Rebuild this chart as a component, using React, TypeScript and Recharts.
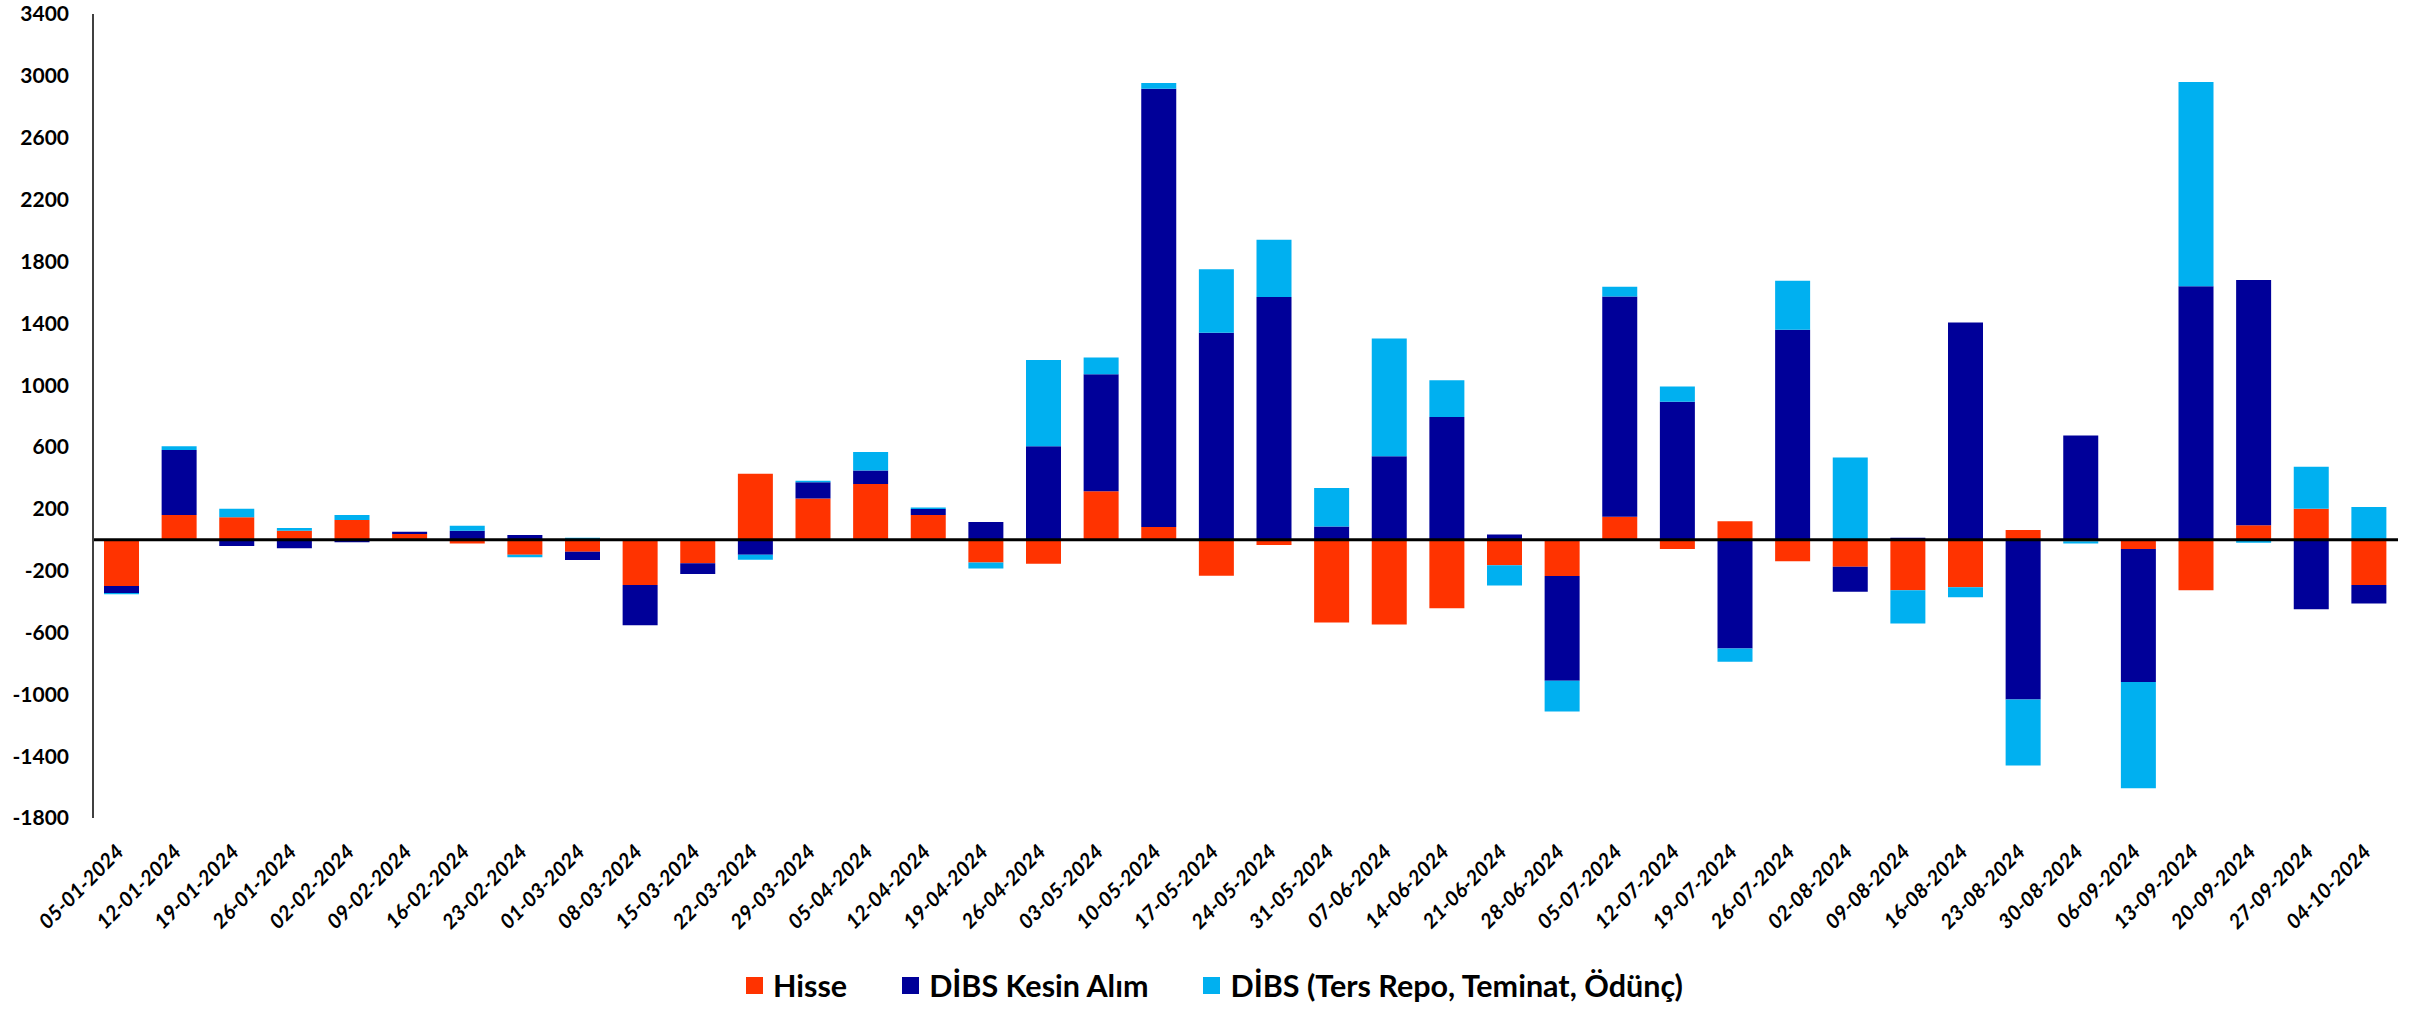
import React from 'react';
import { BarChart, Bar, XAxis, YAxis, ReferenceLine, Legend } from 'recharts';

const dates = [
  '05-01-2024', '12-01-2024', '19-01-2024', '26-01-2024', '02-02-2024', '09-02-2024', '16-02-2024', '23-02-2024',
  '01-03-2024', '08-03-2024', '15-03-2024', '22-03-2024', '29-03-2024', '05-04-2024', '12-04-2024', '19-04-2024',
  '26-04-2024', '03-05-2024', '10-05-2024', '17-05-2024', '24-05-2024', '31-05-2024', '07-06-2024', '14-06-2024',
  '21-06-2024', '28-06-2024', '05-07-2024', '12-07-2024', '19-07-2024', '26-07-2024', '02-08-2024', '09-08-2024',
  '16-08-2024', '23-08-2024', '30-08-2024', '06-09-2024', '13-09-2024', '20-09-2024', '27-09-2024', '04-10-2024',
];

const hisse = [
  -300, 160, 145, 58, 127, 37, -24, -97, -78, -293, -153, 427, 267, 360, 160, -147, -155, 313, 82, -233,
  -34, -535, -549, -443, -165, -235, 149, -60, 119, -139, -175, -327, -307, 63, -10, -60, -327, 93, 200, -293,
];

const dibsKesin = [
  -45, 420, -40, -55, -17, 15, 58, 30, -54, -260, -69, -97, 104, 88, 39, 114, 604, 757, 2835, 1339,
  1570, 86, 539, 793, 33, -678, 1424, 892, -704, 1358, -162, 13, 1404, -1034, 674, -860, 1639, 1587, -450, -119,
];

const dibsRepo = [
  -8, 25, 55, 17, 32, -8, 32, -17, 13, 0, 0, -32, 11, 119, 9, -39, 558, 108, 37, 410,
  370, 248, 763, 238, -132, -198, 63, 99, -86, 317, 532, -215, -66, -426, -15, -687, 1322, -20, 271, 211,
];

const yTicks = [-1800, -1400, -1000, -600, -200, 200, 600, 1000, 1400, 1800, 2200, 2600, 3000, 3400];

const seriesNames = ['Hisse', 'DİBS Kesin Alım', 'DİBS (Ters Repo, Teminat, Ödünç)'];
const seriesColors = ['#FF3300', '#000099', '#00B0F0'];

const data = dates.map((d, i) => ({
  date: d,
  hisse: hisse[i],
  kesin: dibsKesin[i],
  repo: dibsRepo[i],
}));

const FONT = 'Lato, "Open Sans", sans-serif';

const XTick = (props: any) => {
  const { x, y, payload } = props;
  const ax = x + 3;
  const ay = y + 35;
  return (
    <text
      x={ax}
      y={ay}
      transform={`rotate(-45, ${ax}, ${ay})`}
      textAnchor="end"
      fontFamily={FONT}
      fontWeight={700}
      fontStyle="italic"
      fontSize={20.5}
      fill="#000"
    >
      {payload.value}
    </text>
  );
};

const LegendContent = (props: any) => {
  const payload = [...(props.payload || [])].sort(
    (a: any, b: any) => seriesNames.indexOf(a.value) - seriesNames.indexOf(b.value)
  );
  return (
    <div
      style={{
        display: 'flex',
        justifyContent: 'center',
        alignItems: 'center',
        height: 46,
        paddingLeft: 14,
        fontFamily: FONT,
        fontWeight: 700,
        fontSize: 30.5,
        color: '#000',
      }}
    >
      {payload.map((entry: any, i: number) => (
        <div
          key={i}
          style={{ display: 'flex', alignItems: 'center', marginLeft: i === 0 ? 0 : 55 }}
        >
          <div style={{ width: 17, height: 17, background: entry.color, marginRight: 10 }} />
          <span>{entry.value}</span>
        </div>
      ))}
    </div>
  );
};

export default function App() {
  return (
    <div style={{ position: 'fixed', left: 0, top: 0, width: 2415, height: 1009, background: '#fff' }}>
      <BarChart
        width={2415}
        height={1009}
        data={data}
        stackOffset="sign"
        margin={{ top: 14, right: 17, left: 0, bottom: 15 }}
        barSize={35}
      >
        <XAxis
          dataKey="date"
          axisLine={false}
          tickLine={false}
          tickSize={0}
          tickMargin={0}
          interval={0}
          height={130}
          tick={<XTick />}
        />
        <YAxis
          width={93}
          domain={[-1800, 3400]}
          ticks={yTicks}
          interval={0}
          allowDataOverflow
          axisLine={{ stroke: '#404040', strokeWidth: 2 }}
          tickLine={false}
          tickSize={0}
          tickMargin={24}
          tick={{ fontFamily: FONT, fontWeight: 700, fontSize: 21, fill: '#000' }}
        />
        <Legend
          verticalAlign="bottom"
          wrapperStyle={{ position: 'absolute', top: 962, left: 0, width: 2415, height: 46 }}
          content={<LegendContent />}
        />
        <Bar dataKey="hisse" name={seriesNames[0]} stackId="a" fill={seriesColors[0]} isAnimationActive={false} />
        <Bar dataKey="kesin" name={seriesNames[1]} stackId="a" fill={seriesColors[1]} isAnimationActive={false} />
        <Bar dataKey="repo" name={seriesNames[2]} stackId="a" fill={seriesColors[2]} isAnimationActive={false} />
        <ReferenceLine y={0} stroke="#000" strokeWidth={3} />
      </BarChart>
    </div>
  );
}
